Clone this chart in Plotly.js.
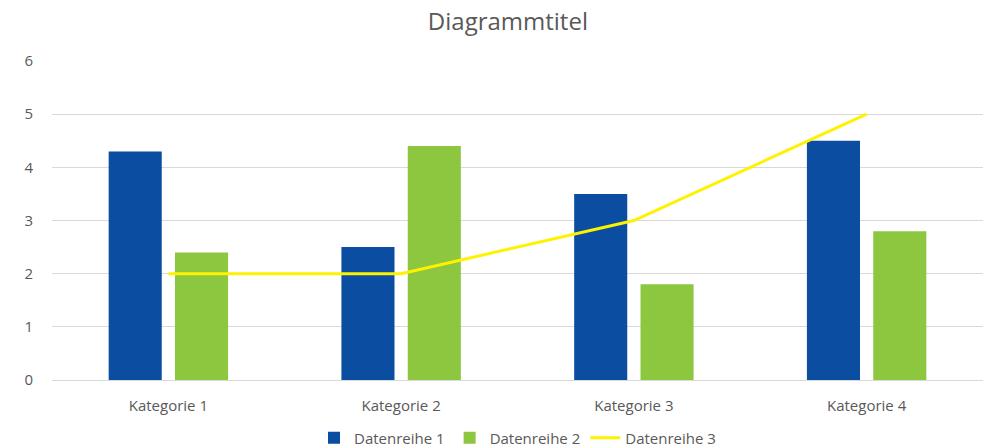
<!DOCTYPE html>
<html>
<head>
<meta charset="utf-8">
<script src="https://cdn.plot.ly/plotly-3.0.1.min.js"></script>
<style>html,body{margin:0;padding:0;background:#fff;}#chart{width:992px;height:448px;}</style>
</head>
<body>
<div id="chart"></div>
<script>
const categories = ["Kategorie 1", "Kategorie 2", "Kategorie 3", "Kategorie 4"];
const series1 = [4.3, 2.5, 3.5, 4.5];
const series2 = [2.4, 4.4, 1.8, 2.8];
const series3 = [2, 2, 3, 5];
const seriesNames = ["Datenreihe 1", "Datenreihe 2", "Datenreihe 3"];
const yTicks = [0, 1, 2, 3, 4, 5, 6];

const textColor = "#595959";
const font = "Open Sans, Noto Sans, Liberation Sans, sans-serif";

const data = [
  {type: "bar", x: categories, y: series1, name: seriesNames[0], marker: {color: "#0A4DA1"}, hoverinfo: "none"},
  {type: "bar", x: categories, y: series2, name: seriesNames[1], marker: {color: "#8DC63F"}, hoverinfo: "none"},
  {type: "scatter", mode: "lines", x: categories, y: series3, name: seriesNames[2], line: {color: "#FFF200", width: 3}, hoverinfo: "none"}
];

const layout = {
  width: 992, height: 448,
  margin: {l: 52, r: 9, t: 61, b: 68, autoexpand: false},
  paper_bgcolor: "#fff", plot_bgcolor: "#fff",
  font: {family: font, color: textColor, size: 13},
  title: {text: "Diagrammtitel", x: 0.512, xanchor: "center", yref: "container", y: 0.951, yanchor: "middle", font: {size: 24, color: textColor, family: font}},
  barmode: "group",
  bargap: 0.43,
  bargroupgap: 0.2,
  showlegend: true,
  legend: {orientation: "h", x: 0.5, xanchor: "center", y: -0.182, yanchor: "middle", font: {size: 15, color: textColor}, traceorder: "normal"},
  xaxis: {
    type: "category", showgrid: false, zeroline: false,
    showline: true, linecolor: "#d9d9d9", linewidth: 1,
    ticks: "", ticklabelstandoff: 12, tickfont: {size: 15, color: textColor}, fixedrange: true
  },
  yaxis: {
    range: [0, 6], tickvals: yTicks, ticktext: yTicks.map(String),
    showgrid: true, gridcolor: "#d9d9d9", gridwidth: 1,
    zeroline: false, showline: false, ticks: "", ticklabelstandoff: 18,
    tickfont: {size: 15, color: textColor}, fixedrange: true
  }
};

Plotly.newPlot("chart", data, layout, {displayModeBar: false, staticPlot: true});
</script>
</body>
</html>
